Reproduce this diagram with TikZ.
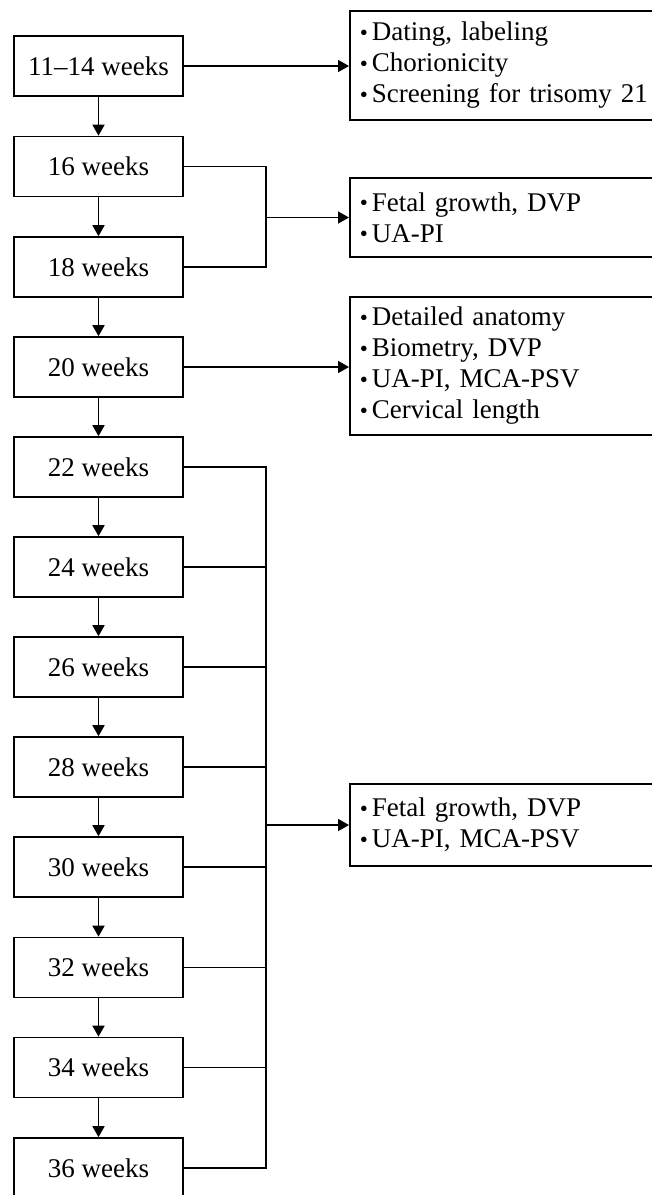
\documentclass[tikz,border=0pt]{standalone}
\usepackage{fontspec}
\setmainfont{Liberation Serif}
\usetikzlibrary{arrows.meta}

\newcommand{\itm}{\raisebox{0.5pt}{\fontsize{23}{23}\selectfont\textbullet}\kern4pt}

\tikzset{
  wk/.style={draw, line width=1.7pt, minimum width=169pt, minimum height=60pt, inner sep=0pt, font=\fontsize{27}{31}\selectfont},
  todo/.style={draw, line width=1.7pt, anchor=west, text width=300pt, align=left, inner xsep=10pt, inner ysep=0pt, font=\fontsize{27}{31}\selectfont},
  arr/.style={line width=1.7pt, -{Triangle[length=11pt,width=12pt]}},
  ln/.style={line width=1.7pt}
}

\begin{document}
\begin{tikzpicture}[x=1pt,y=-1pt]
\useasboundingbox (0,0) rectangle (652,1195);

\node[wk] (w11) at (98.5,66) {11--14 weeks};
\node[wk] (w16) at (98.5,166.5) {16 weeks};
\node[wk] (w18) at (98.5,267) {18 weeks};
\node[wk] (w20) at (98.5,367) {20 weeks};
\node[wk] (w22) at (98.5,467) {22 weeks};
\node[wk] (w24) at (98.5,567) {24 weeks};
\node[wk] (w26) at (98.5,667) {26 weeks};
\node[wk] (w28) at (98.5,767) {28 weeks};
\node[wk] (w30) at (98.5,867) {30 weeks};
\node[wk] (w32) at (98.5,967.5) {32 weeks};
\node[wk] (w34) at (98.5,1067.5) {34 weeks};
\node[wk] (w36) at (98.5,1168) {36 weeks};

\node[todo, minimum height=109pt] (r1) at (349,65.5) {\itm Dating, labeling\\ \itm Chorionicity\\ \itm Screening for trisomy 21};
\node[todo, minimum height=79pt] (r2) at (349,217.5) {\itm Fetal growth, DVP\\ \itm UA-PI};
\node[todo, minimum height=138pt] (r3) at (349,366) {\itm Detailed anatomy\\ \itm Biometry, DVP\\ \itm UA-PI, MCA-PSV\\ \itm Cervical length};
\node[todo, minimum height=82pt] (r4) at (349,825) {\itm Fetal growth, DVP\\ \itm UA-PI, MCA-PSV};

% timeline
\draw[arr] (w11) -- (w16);
\draw[arr] (w16) -- (w18);
\draw[arr] (w18) -- (w20);
\draw[arr] (w20) -- (w22);
\draw[arr] (w22) -- (w24);
\draw[arr] (w24) -- (w26);
\draw[arr] (w26) -- (w28);
\draw[arr] (w28) -- (w30);
\draw[arr] (w30) -- (w32);
\draw[arr] (w32) -- (w34);
\draw[arr] (w34) -- (w36);

% checks
\coordinate (bus) at (266,0);
\draw[arr] (w11.east) -- (w11.east -| r1.west);
\draw[ln] (w16.east) -- (w16.east -| bus) -- (w18.east -| bus) -- (w18.east);
\draw[arr] (r2.west -| bus) -- (r2.west);
\draw[arr] (w20.east) -- (w20.east -| r3.west);

\draw[ln] (w22.east) -- (w22.east -| bus) -- (w36.east -| bus) -- (w36.east);
\draw[ln] (w24.east) -- (w24.east -| bus);
\draw[ln] (w26.east) -- (w26.east -| bus);
\draw[ln] (w28.east) -- (w28.east -| bus);
\draw[ln] (w30.east) -- (w30.east -| bus);
\draw[ln] (w32.east) -- (w32.east -| bus);
\draw[ln] (w34.east) -- (w34.east -| bus);
\draw[arr] (r4.west -| bus) -- (r4.west);
\end{tikzpicture}
\end{document}
